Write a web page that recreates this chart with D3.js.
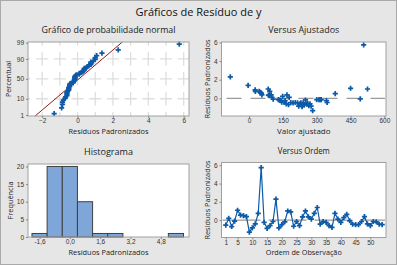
<!DOCTYPE html>
<html>
<head>
<meta charset="utf-8">
<script src="https://cdn.jsdelivr.net/npm/d3@7"></script>
<style>
  body { margin: 0; background: #e6e6e6; }
  svg { display: block; font-family: "Open Sans", "Noto Sans", sans-serif; }
</style>
</head>
<body>
<svg id="chart" width="397" height="265"></svg>
<script>
// Standardized residuals, in observation order
const residuals = [-0.55, 0.20, -0.70, -0.10, 1.08, 0.55, 0.50, 0.38, -1.32, -0.85,
                   -0.42, 0.75, 5.75, -0.25, -0.90, -0.60, -0.15, 2.30, -0.85, -0.50,
                   -0.18, 1.00, 0.90, -0.67, -0.15, -0.60, 0.35, 1.00, 0.36, 0.10,
                   0.75, 1.38, -0.45, -0.15, -0.25, -0.60, -0.80, 0.75, 0.10, -0.25,
                   0.28, 0.64, -0.07, -0.45, -0.50, -0.50, -0.15, 0.38, -0.42, -0.60,
                   -0.15, -0.18, -0.45, -0.50];
// Fitted values, same order
const fitted = [260, 149, 245, 107, 450, 55, 382, 168, 282, 220,
                145, 92, 508, 140, 235, 165, 300, -83, 275, 195,
                135, 85, 27, 175, 310, 225, 86, 525, 98, 102,
                28, -4, 185, 130, 160, 255, 265, 45, 178, 343,
                90, 50, 493, 205, 215, 230, 320, 57, 155, 270,
                315, 250, 346, 240];

const probYTicks = [1, 10, 50, 90, 99];
const probXTicks = [-2, 0, 2, 4, 6];
const histXTicks = [-1.6, 0, 1.6, 3.2, 4.8];
const histYTicks = [0, 5, 10, 15, 20];
const fitXTicks = [0, 150, 300, 450, 600];
const residTicks = [0, 2, 4, 6];
const orderTicks = [1, 5, 10, 15, 20, 25, 30, 35, 40, 45, 50];
const histStart = -2.0, histWidth = 0.8;

const blue = "#0d5aa7", red = "#9b1a1a", barFill = "#7ea6d8";
const txt = "#222";

const svg = d3.select("#chart");

svg.append("rect")
    .attr("x", 0.5).attr("y", 0.5)
    .attr("width", 396).attr("height", 264)
    .attr("fill", "#e6e6e6")
    .attr("stroke", "#a9a9a9");

// shrink a text element if it is wider than the reference
function fitWidth(t, w) {
    const len = t.node().getComputedTextLength();
    if (len > w) t.attr("textLength", w).attr("lengthAdjust", "spacingAndGlyphs");
    return t;
}

fitWidth(svg.append("text")
    .attr("x", 198.5).attr("y", 15.5)
    .attr("text-anchor", "middle")
    .style("font-size", "11px")
    .attr("fill", "#111")
    .text("Gráficos de Resíduo de y"), 132);

// inverse normal cdf (Acklam)
function qnorm(p) {
    const a = [-3.969683028665376e+01, 2.209460984245205e+02, -2.759285104469687e+02, 1.383577518672690e+02, -3.066479806614716e+01, 2.506628277459239e+00];
    const b = [-5.447609879822406e+01, 1.615858368580409e+02, -1.556989798598866e+02, 6.680131188771972e+01, -1.328068155288572e+01];
    const c = [-7.784894002430293e-03, -3.223964580411365e-01, -2.400758277161838e+00, -2.549732539343734e+00, 4.374664141464968e+00, 2.938163982698783e+00];
    const d = [7.784695709041462e-03, 3.224671290700398e-01, 2.445134137142996e+00, 3.754408661907416e+00];
    const pl = 0.02425;
    if (p < pl) {
        const q = Math.sqrt(-2 * Math.log(p));
        return (((((c[0]*q+c[1])*q+c[2])*q+c[3])*q+c[4])*q+c[5]) / ((((d[0]*q+d[1])*q+d[2])*q+d[3])*q+1);
    }
    if (p > 1 - pl) {
        const q = Math.sqrt(-2 * Math.log(1 - p));
        return -(((((c[0]*q+c[1])*q+c[2])*q+c[3])*q+c[4])*q+c[5]) / ((((d[0]*q+d[1])*q+d[2])*q+d[3])*q+1);
    }
    const q = p - 0.5, r = q * q;
    return (((((a[0]*r+a[1])*r+a[2])*r+a[3])*r+a[4])*r+a[5])*q / (((((b[0]*r+b[1])*r+b[2])*r+b[3])*r+b[4])*r+1);
}

// panel frame: white plot box, titles
function panel(box, title, xTitle, yTitle, yTitleX) {
    const g = svg.append("g");
    g.append("rect")
        .attr("x", box.x0).attr("y", box.y0)
        .attr("width", box.x1 - box.x0).attr("height", box.y1 - box.y0)
        .attr("fill", "white");
    const cx = (box.x0 + box.x1) / 2, cy = (box.y0 + box.y1) / 2;
    fitWidth(g.append("text")
        .attr("x", cx).attr("y", box.y0 - 9)
        .attr("text-anchor", "middle")
        .style("font-size", "9.5px")
        .attr("fill", txt)
        .text(title), box.titleW);
    fitWidth(g.append("text")
        .attr("x", cx).attr("y", box.y1 + 17.5)
        .attr("text-anchor", "middle")
        .style("font-size", "8px")
        .attr("fill", txt)
        .text(xTitle), box.xTitleW);
    fitWidth(g.append("text")
        .attr("transform", "translate(" + yTitleX + "," + cy + ") rotate(-90)")
        .attr("text-anchor", "middle")
        .style("font-size", "8px")
        .attr("fill", txt)
        .text(yTitle), box.yTitleW);
    return g;
}

function styleAxis(g) {
    g.select(".domain").remove();
    g.selectAll(".tick line").attr("stroke", "#888");
    g.selectAll(".tick text").attr("fill", "#333").style("font-size", "6.5px");
}

function border(g, box) {
    g.append("rect")
        .attr("x", box.x0).attr("y", box.y0)
        .attr("width", box.x1 - box.x0).attr("height", box.y1 - box.y0)
        .attr("fill", "none")
        .attr("stroke", "#a0a0a0");
}

const cross = d3.symbol().type(d3.symbolCross).size(15);

// ---------- Normal probability plot ----------
const b1 = { x0: 28, x1: 189, y0: 42, y1: 116, titleW: 134, xTitleW: 80, yTitleW: 36 };
const g1 = panel(b1, "Gráfico de probabilidade normal", "Resíduos Padronizados", "Percentual", 11);

const xProb = d3.scaleLinear().domain([-2.8, 6.3]).range([b1.x0, b1.x1]);
const yProb = d3.scaleLinear().domain([-2.39, 2.37]).range([b1.y1, b1.y0]);

// dashed grid, dashes centred on the crossings
const colStep = xProb(1) - xProb(0);
const rowStep = yProb(0) - yProb(qnorm(0.9));
const gridV = d3.range(-2, 7);
const gridH = [10, 50, 90];
g1.selectAll(".gv").data(gridV).enter().append("line")
    .attr("x1", d => xProb(d)).attr("x2", d => xProb(d))
    .attr("y1", b1.y0).attr("y2", b1.y1)
    .attr("stroke", "#dedede").attr("stroke-width", 1.3)
    .attr("stroke-dasharray", (rowStep * 0.68) + " " + (rowStep * 0.32))
    .attr("stroke-dashoffset", () => {
        const s = yProb(0) - b1.y0, dl = rowStep * 0.68;
        return (((dl / 2 - s) % rowStep) + rowStep) % rowStep;
    });
g1.selectAll(".gh").data(gridH).enter().append("line")
    .attr("x1", b1.x0).attr("x2", b1.x1)
    .attr("y1", d => yProb(qnorm(d / 100))).attr("y2", d => yProb(qnorm(d / 100)))
    .attr("stroke", "#dedede").attr("stroke-width", 1.3)
    .attr("stroke-dasharray", (colStep * 0.68) + " " + (colStep * 0.32))
    .attr("stroke-dashoffset", () => {
        const s = xProb(0) - b1.x0, dl = colStep * 0.68;
        return (((dl / 2 - s) % colStep) + colStep) % colStep;
    });

const n = residuals.length;
const sorted = residuals.slice().sort(d3.ascending);
const probPts = sorted.map((v, i) => ({ x: v, z: qnorm((i + 1 - 0.3) / (n + 0.4)) }));
const mu = d3.mean(residuals), sd = d3.deviation(residuals);

g1.append("line")
    .attr("x1", xProb(mu + sd * yProb.domain()[0])).attr("y1", b1.y1)
    .attr("x2", xProb(mu + sd * yProb.domain()[1])).attr("y2", b1.y0)
    .attr("stroke", red).attr("stroke-width", 1);

g1.selectAll(".pt").data(probPts).enter().append("path")
    .attr("d", cross)
    .attr("transform", d => "translate(" + xProb(d.x) + "," + yProb(d.z) + ")")
    .attr("fill", blue);

border(g1, b1);
g1.append("g").attr("transform", "translate(0," + b1.y1 + ")")
    .call(d3.axisBottom(xProb).tickValues(probXTicks).tickSize(2).tickPadding(0.5)).call(styleAxis);
g1.append("g").attr("transform", "translate(" + b1.x0 + ",0)")
    .call(d3.axisLeft(yProb).tickValues(probYTicks.map(p => qnorm(p / 100)))
        .tickFormat((d, i) => probYTicks[i]).tickSize(2).tickPadding(2)).call(styleAxis);

// ---------- Versus fits ----------
const b2 = { x0: 221.5, x1: 386, y0: 42, y1: 116, titleW: 71, xTitleW: 54, yTitleW: 79 };
const g2 = panel(b2, "Versus Ajustados", "Valor ajustado", "Resíduos Padronizados", 209.5);

const xFit = d3.scaleLinear().domain([-122, 607]).range([b2.x0, b2.x1]);
const yFit = d3.scaleLinear().domain([-1.9, 6.05]).range([b2.y1, b2.y0]);

g2.append("line")
    .attr("x1", b2.x0 + 1).attr("x2", b2.x1 - 1)
    .attr("y1", yFit(0)).attr("y2", yFit(0))
    .attr("stroke", "#9a9a9a").attr("stroke-width", 1.2)
    .attr("stroke-dasharray", "15 9").attr("stroke-dashoffset", -4);

g2.selectAll(".pt").data(residuals).enter().append("path")
    .attr("d", cross)
    .attr("transform", (d, i) => "translate(" + xFit(fitted[i]) + "," + yFit(d) + ")")
    .attr("fill", blue);

border(g2, b2);
g2.append("g").attr("transform", "translate(0," + b2.y1 + ")")
    .call(d3.axisBottom(xFit).tickValues(fitXTicks).tickSize(2).tickPadding(0.5)).call(styleAxis);
g2.append("g").attr("transform", "translate(" + b2.x0 + ",0)")
    .call(d3.axisLeft(yFit).tickValues(residTicks).tickSize(2).tickPadding(2)).call(styleAxis);

// ---------- Histogram ----------
const b3 = { x0: 28, x1: 189, y0: 164, y1: 237, titleW: 49, xTitleW: 80, yTitleW: 38 };
const g3 = panel(b3, "Histograma", "Resíduos Padronizados", "Frequência", 12.5);

const xHist = d3.scaleLinear().domain([-2.21, 6.29]).range([b3.x0, b3.x1]);
const yHist = d3.scaleLinear().domain([0, 20.7]).range([b3.y1, b3.y0]);

const thresholds = d3.range(1, 10).map(k => +(histStart + k * histWidth).toFixed(2));
const bins = d3.bin()
    .domain([histStart, +(histStart + 10 * histWidth).toFixed(2)])
    .thresholds(thresholds)(residuals)
    .filter(b => b.length > 0);

g3.selectAll(".bar").data(bins).enter().append("rect")
    .attr("x", d => xHist(d.x0))
    .attr("width", d => xHist(d.x1) - xHist(d.x0))
    .attr("y", d => yHist(d.length))
    .attr("height", d => yHist(0) - yHist(d.length))
    .attr("fill", barFill)
    .attr("stroke", "#404040").attr("stroke-width", 1);

border(g3, b3);
g3.append("g").attr("transform", "translate(0," + b3.y1 + ")")
    .call(d3.axisBottom(xHist).tickValues(histXTicks)
        .tickFormat(d => d3.format(".1f")(d).replace(".", ",").replace("−", "-"))
        .tickSize(2).tickPadding(0.5)).call(styleAxis);
g3.append("g").attr("transform", "translate(" + b3.x0 + ",0)")
    .call(d3.axisLeft(yHist).tickValues(histYTicks).tickSize(2).tickPadding(2)).call(styleAxis);

// ---------- Versus order ----------
const b4 = { x0: 221.5, x1: 386, y0: 162.5, y1: 237.5, titleW: 52, xTitleW: 76, yTitleW: 79 };
const g4 = panel(b4, "Versus Ordem", "Ordem de Observação", "Resíduos Padronizados", 209.5);

const xOrd = d3.scaleLinear().domain([-0.45, 55.3]).range([b4.x0, b4.x1]);
const yOrd = d3.scaleLinear().domain([-1.9, 6.3]).range([b4.y1, b4.y0]);

g4.append("line")
    .attr("x1", b4.x0 + 1).attr("x2", b4.x1 - 1)
    .attr("y1", yOrd(0)).attr("y2", yOrd(0))
    .attr("stroke", "#9a9a9a").attr("stroke-width", 1.2)
    .attr("stroke-dasharray", "38 8");

const ordLine = d3.line()
    .x((d, i) => xOrd(i + 1))
    .y(d => yOrd(d));

g4.append("path")
    .datum(residuals)
    .attr("d", ordLine)
    .attr("fill", "none")
    .attr("stroke", blue).attr("stroke-width", 1.2);

g4.selectAll(".pt").data(residuals).enter().append("path")
    .attr("d", cross)
    .attr("transform", (d, i) => "translate(" + xOrd(i + 1) + "," + yOrd(d) + ")")
    .attr("fill", blue);

border(g4, b4);
g4.append("g").attr("transform", "translate(0," + b4.y1 + ")")
    .call(d3.axisBottom(xOrd).tickValues(orderTicks).tickSize(2).tickPadding(0.5)).call(styleAxis);
g4.append("g").attr("transform", "translate(" + b4.x0 + ",0)")
    .call(d3.axisLeft(yOrd).tickValues(residTicks).tickSize(2).tickPadding(2)).call(styleAxis);
</script>
</body>
</html>
